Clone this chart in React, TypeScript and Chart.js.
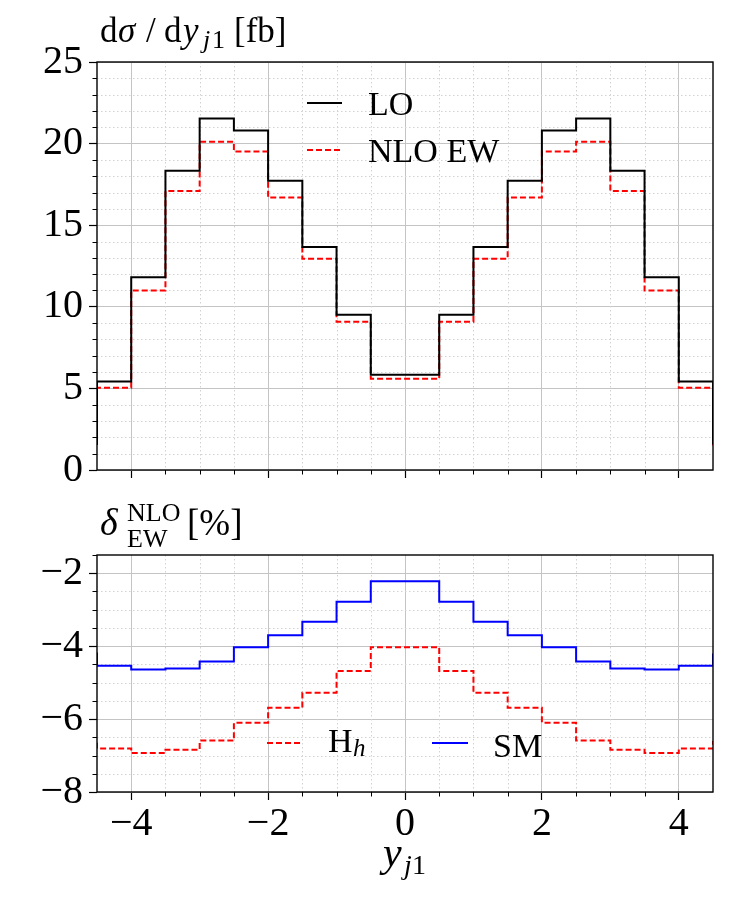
import React, { useEffect, useRef } from "react";
import { Chart, registerables } from "chart.js";
Chart.register(...registerables);

// ---------- data ----------
const binEdges = [-5, -4.5, -4, -3.5, -3, -2.5, -2, -1.5, -1, -0.5, 0, 0.5, 1, 1.5, 2, 2.5, 3, 3.5, 4, 4.5, 5];
const loValues = [1.6, 5.43, 11.81, 18.33, 21.54, 20.81, 17.72, 13.67, 9.52, 5.83, 5.83, 9.52, 13.67, 17.72, 20.81, 21.54, 18.33, 11.81, 5.43, 1.6];
const nloEwValues = [1.5, 5.04, 11.0, 17.09, 20.11, 19.52, 16.69, 12.94, 9.09, 5.59, 5.59, 9.09, 12.94, 16.69, 19.52, 20.11, 17.09, 11.0, 5.04, 1.5];
const smDelta = [-4.2, -4.54, -4.64, -4.61, -4.42, -4.03, -3.7, -3.33, -2.78, -2.22, -2.22, -2.78, -3.33, -3.7, -4.03, -4.42, -4.61, -4.64, -4.54, -4.2];
const hhDelta = [-6.6, -6.81, -6.93, -6.84, -6.59, -6.1, -5.69, -5.28, -4.68, -4.03, -4.03, -4.68, -5.28, -5.69, -6.1, -6.59, -6.84, -6.93, -6.81, -6.6];

const xMajorTicks = [-4, -2, 0, 2, 4];
const topYMajorTicks = [0, 5, 10, 15, 20, 25];
const bottomYMajorTicks = [-8, -6, -4, -2];
const xMinorStep = 0.5;
const topYMinorStep = 1;
const bottomYMinorStep = 0.5;

const FONT = '"Liberation Serif", "Times New Roman", serif';

function stepPoints(vals: number[]) {
  return binEdges.map((e, i) => ({ x: e, y: vals[Math.min(i, vals.length - 1)] }));
}
const fmt = (v: number) => (v < 0 ? "\u2212" + Math.abs(v) : String(v));

type Part = { t: string; x: number; y: number; s: number; it?: boolean };
function drawParts(ctx: CanvasRenderingContext2D, parts: Part[]) {
  ctx.save();
  ctx.fillStyle = "#000";
  ctx.textAlign = "left";
  ctx.textBaseline = "alphabetic";
  for (const p of parts) {
    ctx.font = `${p.it ? "italic " : ""}${p.s}px ${FONT}`;
    ctx.fillText(p.t, p.x, p.y);
  }
  ctx.restore();
}

type LegendItem = { color: string; dash: number[]; x1: number; x2: number; y: number; parts: Part[] };

function decorPlugin(cfg: { yMinor: number; majorsY: number[]; title: Part[]; legend: LegendItem[] }) {
  return {
    id: "decor",
    beforeDatasetsDraw(chart: any) {
      const { ctx, chartArea: a, scales } = chart;
      const x = scales.x, y = scales.y;
      ctx.save();
      // minor dotted grid
      ctx.strokeStyle = "#d2d2d2";
      ctx.lineWidth = 1;
      ctx.setLineDash([1.5, 2.5]);
      const xs: number[] = [];
      for (let v = x.min; v <= x.max + 1e-9; v += xMinorStep) xs.push(Math.round(v * 100) / 100);
      const ys: number[] = [];
      for (let v = y.min; v <= y.max + 1e-9; v += cfg.yMinor) ys.push(Math.round(v * 100) / 100);
      for (const v of xs) {
        if (xMajorTicks.includes(v) || v === x.min || v === x.max) continue;
        const px = Math.round(x.getPixelForValue(v)) + 0.5;
        ctx.beginPath(); ctx.moveTo(px, a.top); ctx.lineTo(px, a.bottom); ctx.stroke();
      }
      for (const v of ys) {
        if (cfg.majorsY.includes(v) || v === y.min || v === y.max) continue;
        const py = Math.round(y.getPixelForValue(v)) + 0.5;
        ctx.beginPath(); ctx.moveTo(a.left, py); ctx.lineTo(a.right, py); ctx.stroke();
      }
      // minor tick marks
      ctx.setLineDash([]);
      ctx.strokeStyle = "#000";
      ctx.lineWidth = 1;
      for (const v of xs) {
        if (xMajorTicks.includes(v) || v === x.min || v === x.max) continue;
        const px = Math.round(x.getPixelForValue(v)) + 0.5;
        ctx.beginPath(); ctx.moveTo(px, a.bottom); ctx.lineTo(px, a.bottom + 4.5); ctx.stroke();
      }
      for (const v of ys) {
        if (cfg.majorsY.includes(v)) continue;
        const py = Math.round(y.getPixelForValue(v)) + 0.5;
        ctx.beginPath(); ctx.moveTo(a.left, py); ctx.lineTo(a.left - 4.5, py); ctx.stroke();
      }
      ctx.restore();
    },
    afterDatasetsDraw(chart: any) {
      const { ctx, chartArea: a } = chart;
      ctx.save();
      ctx.strokeStyle = "#000";
      ctx.lineWidth = 1.4;
      ctx.strokeRect(a.left, a.top, a.right - a.left, a.bottom - a.top);
      for (const it of cfg.legend) {
        ctx.strokeStyle = it.color;
        ctx.lineWidth = 2;
        ctx.setLineDash(it.dash);
        ctx.beginPath(); ctx.moveTo(it.x1, it.y); ctx.lineTo(it.x2, it.y); ctx.stroke();
        ctx.setLineDash([]);
        drawParts(ctx, it.parts);
      }
      ctx.restore();
      drawParts(ctx, cfg.title);
    },
  };
}

function axisCommon(min: number, max: number, ticks: number[], extent: number, isY: boolean, showLabels: boolean) {
  return {
    type: "linear",
    min,
    max,
    afterBuildTicks: (s: any) => { s.ticks = ticks.map((v) => ({ value: v })); },
    afterFit: (s: any) => { if (isY) s.width = extent; else s.height = extent; },
    border: { display: false },
    grid: { color: "#c4c4c4", lineWidth: 1, tickColor: "#000", tickLength: 8, tickWidth: 1.2 },
    ticks: {
      display: showLabels,
      color: "#000",
      font: { family: FONT, size: 40 },
      padding: isY ? 6 : 0,
      maxRotation: 0,
      autoSkip: false,
      callback: (v: any) => fmt(Number(v)),
    },
  };
}

export default function App() {
  const topRef = useRef<HTMLCanvasElement>(null);
  const botRef = useRef<HTMLCanvasElement>(null);

  useEffect(() => {
    const top = new Chart(topRef.current as HTMLCanvasElement, {
      type: "line",
      data: {
        datasets: [
          { label: "LO", data: stepPoints(loValues), borderColor: "#000000", borderWidth: 2, stepped: true, pointRadius: 0, fill: false, clip: 0 },
          { label: "NLO EW", data: stepPoints(nloEwValues), borderColor: "#ff0000", borderWidth: 2, borderDash: [6, 3], stepped: true, pointRadius: 0, fill: false, clip: 0 },
        ],
      } as any,
      options: {
        responsive: false,
        devicePixelRatio: 1,
        animation: false,
        events: [],
        layout: { padding: { top: 62, right: 37, left: 0, bottom: 0 } },
        plugins: { legend: { display: false }, tooltip: { enabled: false } },
        scales: {
          x: axisCommon(-4.5, 4.5, xMajorTicks, 17, false, false),
          y: axisCommon(0, 25, topYMajorTicks, 97, true, true),
        } as any,
      },
      plugins: [
        decorPlugin({
          yMinor: topYMinorStep,
          majorsY: topYMajorTicks,
          title: [
            { t: "d", x: 100, y: 42, s: 35 },
            { t: "\u03C3", x: 118, y: 42, s: 35, it: true },
            { t: "/", x: 146, y: 42, s: 35 },
            { t: "d", x: 164, y: 42, s: 35 },
            { t: "y", x: 183, y: 42, s: 35, it: true },
            { t: "j", x: 203, y: 48, s: 26, it: true },
            { t: "1", x: 212, y: 48, s: 26 },
            { t: "[fb]", x: 234, y: 42, s: 35 },
          ],
          legend: [
            { color: "#000000", dash: [], x1: 307, x2: 342, y: 103, parts: [{ t: "LO", x: 368, y: 115, s: 34 }] },
            { color: "#ff0000", dash: [6, 3], x1: 307, x2: 342, y: 150, parts: [{ t: "NLO EW", x: 368, y: 162, s: 34 }] },
          ],
        }) as any,
      ],
    });

    const bottom = new Chart(botRef.current as HTMLCanvasElement, {
      type: "line",
      data: {
        datasets: [
          { label: "SM", data: stepPoints(smDelta), borderColor: "#0000ff", borderWidth: 2, stepped: true, pointRadius: 0, fill: false, clip: 0 },
          { label: "Hh", data: stepPoints(hhDelta), borderColor: "#ff0000", borderWidth: 2, borderDash: [6, 3], stepped: true, pointRadius: 0, fill: false, clip: 0 },
        ],
      } as any,
      options: {
        responsive: false,
        devicePixelRatio: 1,
        animation: false,
        events: [],
        layout: { padding: { top: 55, right: 37, left: 0, bottom: 0 } },
        plugins: { legend: { display: false }, tooltip: { enabled: false } },
        scales: {
          x: axisCommon(-4.5, 4.5, xMajorTicks, 108, false, true),
          y: axisCommon(-8, -1.5, bottomYMajorTicks, 97, true, true),
        } as any,
      },
      plugins: [
        decorPlugin({
          yMinor: bottomYMinorStep,
          majorsY: bottomYMajorTicks,
          title: [
            { t: "\u03B4", x: 100, y: 35, s: 38, it: true },
            { t: "NLO", x: 127, y: 21, s: 26 },
            { t: "EW", x: 127, y: 47, s: 26 },
            { t: "[%]", x: 187, y: 35, s: 37 },
            { t: "y", x: 383, y: 366, s: 42, it: true },
            { t: "j", x: 404, y: 374, s: 28, it: true },
            { t: "1", x: 412, y: 374, s: 28 },
          ],
          legend: [
            { color: "#ff0000", dash: [6, 3], x1: 267, x2: 300, y: 243, parts: [{ t: "H", x: 328, y: 252, s: 34 }, { t: "h", x: 353, y: 256, s: 25, it: true }] },
            { color: "#0000ff", dash: [], x1: 432, x2: 468, y: 243, parts: [{ t: "SM", x: 493, y: 257, s: 34 }] },
          ],
        }) as any,
      ],
    });

    return () => {
      top.destroy();
      bottom.destroy();
    };
  }, []);

  return (
    <div style={{ position: "absolute", left: 0, top: 0, width: 750, height: 900, background: "#fff" }}>
      <canvas ref={topRef} width={750} height={500} style={{ position: "absolute", left: 0, top: 0, width: 750, height: 500 }} />
      <canvas ref={botRef} width={750} height={400} style={{ position: "absolute", left: 0, top: 500, width: 750, height: 400 }} />
    </div>
  );
}
